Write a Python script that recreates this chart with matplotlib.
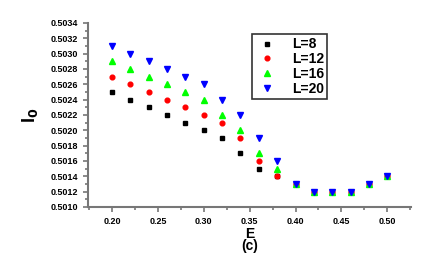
import matplotlib
matplotlib.use("Agg")
import matplotlib.pyplot as plt
from matplotlib.ticker import MultipleLocator, FormatStrFormatter

plt.rcParams['font.family'] = ['Liberation Sans', 'DejaVu Sans']
plt.rcParams['font.weight'] = 'bold'

# energy values
E = [0.20, 0.22, 0.24, 0.26, 0.28, 0.30, 0.32, 0.34,
     0.36, 0.38, 0.40, 0.42, 0.44, 0.46, 0.48, 0.50]

I0_L8 = [0.5025, 0.5024, 0.5023, 0.5022, 0.5021, 0.5020, 0.5019, 0.5017,
         0.5015, 0.5014, 0.5013, 0.5012, 0.5012, 0.5012, 0.5013, 0.5014]
I0_L12 = [0.5027, 0.5026, 0.5025, 0.5024, 0.5023, 0.5022, 0.5021, 0.5019,
          0.5016, 0.5014, 0.5013, 0.5012, 0.5012, 0.5012, 0.5013, 0.5014]
I0_L16 = [0.5029, 0.5028, 0.5027, 0.5026, 0.5025, 0.5024, 0.5022, 0.5020,
          0.5017, 0.5015, 0.5013, 0.5012, 0.5012, 0.5012, 0.5013, 0.5014]
I0_L20 = [0.5031, 0.5030, 0.5029, 0.5028, 0.5027, 0.5026, 0.5024, 0.5022,
          0.5019, 0.5016, 0.5013, 0.5012, 0.5012, 0.5012, 0.5013, 0.5014]

fig = plt.figure(figsize=(4.36, 2.67), dpi=100)
ax = fig.add_axes([0.202, 0.225, 0.741, 0.689])

ax.plot(E, I0_L8, 's', color='black', ms=3.2, label='L=8')
ax.plot(E, I0_L12, 'o', color='red', ms=3.4, label='L=12')
ax.plot(E, I0_L16, '^', color='lime', ms=3.8, label='L=16')
ax.plot(E, I0_L20, 'v', color='blue', ms=3.8, label='L=20')

ax.set_xlim(0.174, 0.526)
ax.set_ylim(0.5010, 0.5034)
ax.xaxis.set_major_locator(MultipleLocator(0.05))
ax.xaxis.set_minor_locator(MultipleLocator(0.025))
ax.yaxis.set_major_locator(MultipleLocator(0.0002))
ax.yaxis.set_minor_locator(MultipleLocator(0.0001))
ax.xaxis.set_major_formatter(FormatStrFormatter('%.2f'))
ax.yaxis.set_major_formatter(FormatStrFormatter('%.4f'))

for side in ['top', 'right']:
    ax.spines[side].set_visible(False)
for side in ['left', 'bottom']:
    ax.spines[side].set_color('#777777')
    ax.spines[side].set_linewidth(1.5)
ax.tick_params(which='both', direction='out', color='#777777', width=1.2,
               labelsize=6.5)
ax.tick_params(which='major', length=3.5)
ax.tick_params(which='minor', length=2)

ax.set_xlabel('E\n(c)', fontsize=10, fontweight='bold', labelpad=1,
              linespacing=0.8)
ax.set_ylabel('I$_\\mathbf{0}$', fontsize=13, fontweight='bold', labelpad=8)

leg = ax.legend(loc='upper left', bbox_to_anchor=(0.508, 0.94), fontsize=10,
                frameon=True, fancybox=False, edgecolor='black',
                labelspacing=0.05, handletextpad=1.0, borderpad=0.25,
                handlelength=1.6, borderaxespad=0)
leg.get_frame().set_linewidth(1.2)

fig.savefig('out.png', dpi=100)
